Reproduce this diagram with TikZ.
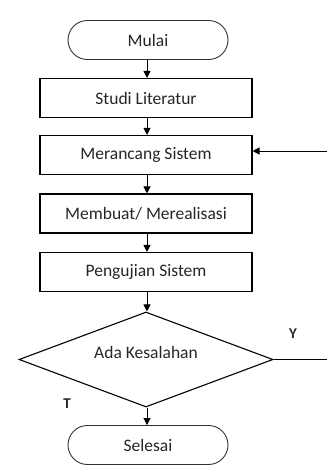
\documentclass[tikz,border=0pt]{standalone}
\usepackage{fontspec}
\setmainfont{Carlito}
\usetikzlibrary{shapes.geometric,arrows.meta}
\tikzset{
  stepbox/.style={draw=black,line width=1.1pt,minimum width=212pt,minimum height=39pt,inner sep=0pt,font=\fontsize{17.5pt}{20pt}\selectfont,text=black!85},
  termbox/.style={draw=black!80,line width=0.9pt,rounded corners=19.5pt,minimum width=160pt,minimum height=39pt,inner sep=0pt,font=\fontsize{17.5pt}{20pt}\selectfont,text=black!85},
  decbox/.style={draw=black,line width=1.1pt,diamond,shape aspect=2.67,minimum width=254pt,minimum height=95pt,inner sep=0pt,text depth=14pt,font=\fontsize{17.5pt}{20pt}\selectfont,text=black!85},
  flow/.style={draw=black,line width=0.9pt,-{Triangle[length=7pt,width=7pt]}},
  plain/.style={draw=black,line width=0.9pt},
  yt/.style={font=\bfseries\fontsize{15pt}{17pt}\selectfont,text=black!85}
}
\begin{document}
\begin{tikzpicture}[x=1pt,y=-1pt]
\useasboundingbox (0,0) rectangle (327,466);
\node[termbox] (mulai) at (148,40) {Mulai};
\node[stepbox] (studi) at (146,98) {Studi Literatur};
\node[stepbox] (rancang) at (146,155) {Merancang Sistem};
\node[stepbox] (buat) at (146,213.5) {Membuat/ Merealisasi};
\node[stepbox] (uji) at (146,272) {Pengujian Sistem};
\node[decbox] (ada) at (146,359.5) {Ada Kesalahan};
\node[termbox] (selesai) at (148,445) {Selesai};
\node[yt] (y) at (293,334) {Y};
\node[yt] (t) at (67,404) {T};
\coordinate (yend) at (327,359.5);
\coordinate (fbstart) at (327,151);
\draw[flow] (mulai.south -| 147,0) -- (studi.north -| 147,0);
\draw[flow] (studi.south -| 147,0) -- (rancang.north -| 147,0);
\draw[flow] (rancang.south -| 147,0) -- (buat.north -| 147,0);
\draw[flow] (buat.south -| 147,0) -- (uji.north -| 147,0);
\draw[flow] (uji.south -| 147,0) -- (ada.north -| 147,0);
\draw[flow] (ada.south -| 147,0) -- (selesai.north -| 147,0);
\draw[plain] (ada.east) -- (yend);
\draw[flow] (fbstart) -- (rancang.east |- fbstart);
\end{tikzpicture}
\end{document}
